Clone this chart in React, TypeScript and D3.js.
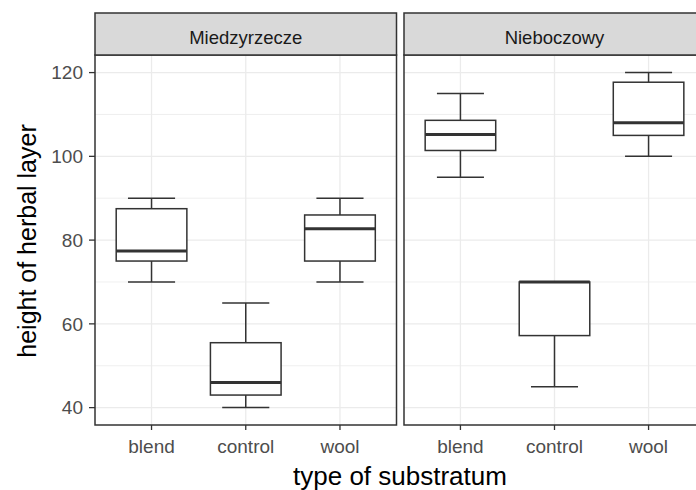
import * as d3 from "d3";

const sites = ["Miedzyrzecze", "Nieboczowy"];
const categories = ["blend", "control", "wool"];

// per site, per category: [blend, control, wool]
const whiskerLow = [[70, 40, 70], [95, 45, 100]];
const q1 = [[75, 43, 75], [101.4, 57.2, 105]];
const median = [[77.4, 46, 82.7], [105.2, 70, 108]];
const q3 = [[87.5, 55.5, 86], [108.6, 70, 117.7]];
const whiskerHigh = [[90, 65, 90], [115, 70, 120]];

const majorTicks = [40, 60, 80, 100, 120];
const minorTicks = [50, 70, 90, 110];

const W = 696;
const H = 490;
const panelTop = 55;
const panelBottom = 425;
const stripTop = 13;
const panels = [
  { x0: 95, x1: 396.5 },
  { x0: 404, x1: 705 },
];

const font = "Liberation Sans, Arial, sans-serif";

export default function App() {
  const y = d3.scaleLinear().domain([35.85, 124.2]).range([panelBottom, panelTop]);

  return (
    <svg
      width={W}
      height={H}
      style={{ position: "absolute", left: 0, top: 0, display: "block", background: "#fff" }}
      fontFamily={font}
    >
      {sites.map((site, si) => {
        const p = panels[si];
        const x = d3.scalePoint<string>().domain(categories).range([p.x0, p.x1]).padding(0.6);
        const step = x.step();
        const boxW = step * 0.75;
        const capW = step * 0.5;
        return (
          <g key={site}>
            <rect x={p.x0} y={panelTop} width={p.x1 - p.x0} height={panelBottom - panelTop} fill="#fff" />
            {minorTicks.map((t) => (
              <line key={"mi" + t} x1={p.x0} x2={p.x1} y1={y(t)} y2={y(t)} stroke="#EBEBEB" strokeWidth={0.8} />
            ))}
            {majorTicks.map((t) => (
              <line key={"ma" + t} x1={p.x0} x2={p.x1} y1={y(t)} y2={y(t)} stroke="#EBEBEB" strokeWidth={1.3} />
            ))}
            {categories.map((c) => (
              <line key={"v" + c} x1={x(c)} x2={x(c)} y1={panelTop} y2={panelBottom} stroke="#EBEBEB" strokeWidth={1.3} />
            ))}
            {categories.map((c, ci) => {
              const cx = x(c)!;
              const lo = whiskerLow[si][ci];
              const hi = whiskerHigh[si][ci];
              const a = q1[si][ci];
              const b = q3[si][ci];
              const m = median[si][ci];
              return (
                <g key={c} stroke="#333333" fill="none">
                  {/* whiskers */}
                  {hi > b && <line x1={cx} x2={cx} y1={y(hi)} y2={y(b)} strokeWidth={1.5} />}
                  {hi > b && <line x1={cx - capW / 2} x2={cx + capW / 2} y1={y(hi)} y2={y(hi)} strokeWidth={1.5} />}
                  {lo < a && <line x1={cx} x2={cx} y1={y(lo)} y2={y(a)} strokeWidth={1.5} />}
                  <line x1={cx - capW / 2} x2={cx + capW / 2} y1={y(lo)} y2={y(lo)} strokeWidth={1.5} />
                  <rect x={cx - boxW / 2} y={y(b)} width={boxW} height={y(a) - y(b)} fill="#fff" strokeWidth={1.5} />
                  <line x1={cx - boxW / 2} x2={cx + boxW / 2} y1={y(m)} y2={y(m)} strokeWidth={3} />
                </g>
              );
            })}
            <rect
              x={p.x0}
              y={panelTop}
              width={p.x1 - p.x0}
              height={panelBottom - panelTop}
              fill="none"
              stroke="#333333"
              strokeWidth={1.5}
            />
            {/* strip */}
            <rect
              x={p.x0}
              y={stripTop}
              width={p.x1 - p.x0}
              height={panelTop - stripTop}
              fill="#D9D9D9"
              stroke="#333333"
              strokeWidth={1.5}
            />
            <text
              x={(p.x0 + p.x1) / 2}
              y={43.5}
              textAnchor="middle"
              fontSize={18.5}
              fill="#1A1A1A"
            >
              {site}
            </text>
            {/* x axis */}
            {categories.map((c) => (
              <g key={"xt" + c}>
                <line x1={x(c)} x2={x(c)} y1={panelBottom} y2={panelBottom + 5} stroke="#333333" strokeWidth={1.3} />
                <text x={x(c)} y={453} textAnchor="middle" fontSize={19} fill="#4D4D4D">
                  {c}
                </text>
              </g>
            ))}
          </g>
        );
      })}
      {/* y axis */}
      {majorTicks.map((t) => (
        <g key={"yt" + t}>
          <line x1={89} x2={95} y1={y(t)} y2={y(t)} stroke="#333333" strokeWidth={1.3} />
          <text x={83} y={y(t)} dy="0.35em" textAnchor="end" fontSize={19} fill="#4D4D4D">
            {t}
          </text>
        </g>
      ))}
      <text
        transform={`translate(36,${(panelTop + panelBottom) / 2 + 1}) rotate(-90)`}
        textAnchor="middle"
        fontSize={25}
        fill="#000"
      >
        height of herbal layer
      </text>
      <text x={400} y={485} textAnchor="middle" fontSize={26} fill="#000">
        type of substratum
      </text>
    </svg>
  );
}
